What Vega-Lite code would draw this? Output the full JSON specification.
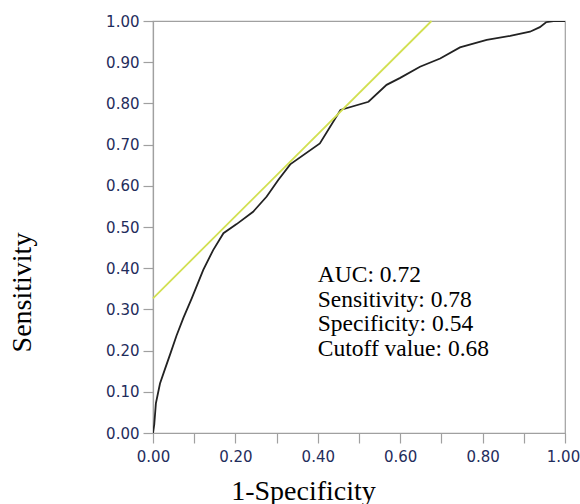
{
  "$schema": "https://vega.github.io/schema/vega-lite/v6.json",
  "autosize": "none",
  "width": 412,
  "height": 412,
  "padding": {"left": 153, "top": 21, "right": 15, "bottom": 71},
  "background": "white",
  "config": {
    "view": {"stroke": "#a0a0a0", "strokeWidth": 1.2},
    "axis": {
      "domainColor": "#a0a0a0",
      "domainWidth": 1.2,
      "tickColor": "#a0a0a0",
      "tickWidth": 1.2,
      "grid": false,
      "labelFont": "DejaVu Sans",
      "labelFontSize": 15,
      "labelColor": "#1f2d5c",
      "titleFont": "Liberation Serif",
      "titleFontSize": 28,
      "titleFontWeight": "normal",
      "titleColor": "#000000"
    }
  },
  "layer": [
    {
      "data": {"values": [
        {"fpr": 0.0, "tpr": 0.0},
        {"fpr": 0.003, "tpr": 0.02},
        {"fpr": 0.007, "tpr": 0.072},
        {"fpr": 0.017, "tpr": 0.12},
        {"fpr": 0.029, "tpr": 0.155},
        {"fpr": 0.043, "tpr": 0.195},
        {"fpr": 0.057, "tpr": 0.236},
        {"fpr": 0.074, "tpr": 0.28},
        {"fpr": 0.094, "tpr": 0.327},
        {"fpr": 0.122, "tpr": 0.396},
        {"fpr": 0.146, "tpr": 0.444},
        {"fpr": 0.171, "tpr": 0.485},
        {"fpr": 0.203, "tpr": 0.507},
        {"fpr": 0.243, "tpr": 0.537},
        {"fpr": 0.276, "tpr": 0.574},
        {"fpr": 0.304, "tpr": 0.614},
        {"fpr": 0.333, "tpr": 0.652},
        {"fpr": 0.405, "tpr": 0.703},
        {"fpr": 0.455, "tpr": 0.784},
        {"fpr": 0.523, "tpr": 0.804},
        {"fpr": 0.567, "tpr": 0.845},
        {"fpr": 0.6, "tpr": 0.862},
        {"fpr": 0.648, "tpr": 0.889},
        {"fpr": 0.697, "tpr": 0.909},
        {"fpr": 0.745, "tpr": 0.936},
        {"fpr": 0.81, "tpr": 0.954},
        {"fpr": 0.867, "tpr": 0.964},
        {"fpr": 0.915, "tpr": 0.974},
        {"fpr": 0.939, "tpr": 0.985},
        {"fpr": 0.954, "tpr": 0.997},
        {"fpr": 0.972, "tpr": 1.0},
        {"fpr": 1.0, "tpr": 1.0}
      ]},
      "mark": {"type": "line", "color": "#222222", "strokeWidth": 1.8, "clip": true},
      "encoding": {
        "x": {
          "field": "fpr", "type": "quantitative",
          "scale": {"domain": [0, 1], "nice": false},
          "title": "1-Specificity",
          "axis": {
            "values": [0, 0.05, 0.1, 0.15, 0.2, 0.25, 0.3, 0.35, 0.4, 0.45, 0.5, 0.55, 0.6, 0.65, 0.7, 0.75, 0.8, 0.85, 0.9, 0.95, 1.0],
            "tickSize": {"condition": {"test": "round(datum.value*20) % 2 == 0", "value": 10}, "value": 6.5},
            "labelExpr": "round(datum.value*20) % 4 == 0 ? format(datum.value, '.2f') : ''",
            "labelOffset": {"condition": {"test": "datum.value >= 0.99", "value": -2}, "value": 0},
            "labelPadding": 6,
            "labelFlush": false,
            "labelOverlap": false,
            "titleX": 150,
            "titleY": 66,
            "titleAlign": "center",
            "titleBaseline": "alphabetic"
          }
        },
        "y": {
          "field": "tpr", "type": "quantitative",
          "scale": {"domain": [0, 1], "nice": false},
          "title": "Sensitivity",
          "axis": {
            "values": [0, 0.05, 0.1, 0.15, 0.2, 0.25, 0.3, 0.35, 0.4, 0.45, 0.5, 0.55, 0.6, 0.65, 0.7, 0.75, 0.8, 0.85, 0.9, 0.95, 1.0],
            "tickSize": {"condition": {"test": "round(datum.value*20) % 2 == 0", "value": 10}, "value": 5},
            "labelExpr": "round(datum.value*20) % 2 == 0 ? format(datum.value, '.2f') : ''",
            "labelPadding": 4,
            "labelFlush": false,
            "labelOverlap": false,
            "titleAngle": -90,
            "titleX": -123,
            "titleY": 271,
            "titleAlign": "center",
            "titleBaseline": "alphabetic"
          }
        }
      }
    },
    {
      "data": {"values": [
        {"fpr": 0.0, "tpr": 0.327},
        {"fpr": 0.676, "tpr": 1.0}
      ]},
      "mark": {"type": "line", "color": "#d2e052", "strokeWidth": 1.8},
      "encoding": {
        "x": {"field": "fpr", "type": "quantitative"},
        "y": {"field": "tpr", "type": "quantitative"}
      }
    },
    {
      "data": {"values": [
        {"text": ["AUC: 0.72", "Sensitivity: 0.78", "Specificity: 0.54", "Cutoff value: 0.68"]}
      ]},
      "mark": {"type": "text", "align": "left", "baseline": "alphabetic", "font": "Liberation Serif", "fontSize": 23.5, "lineHeight": 24.5, "color": "#000000"},
      "encoding": {
        "x": {"datum": 0.40, "type": "quantitative"},
        "y": {"datum": 0.3665, "type": "quantitative"},
        "text": {"field": "text"}
      }
    }
  ]
}
